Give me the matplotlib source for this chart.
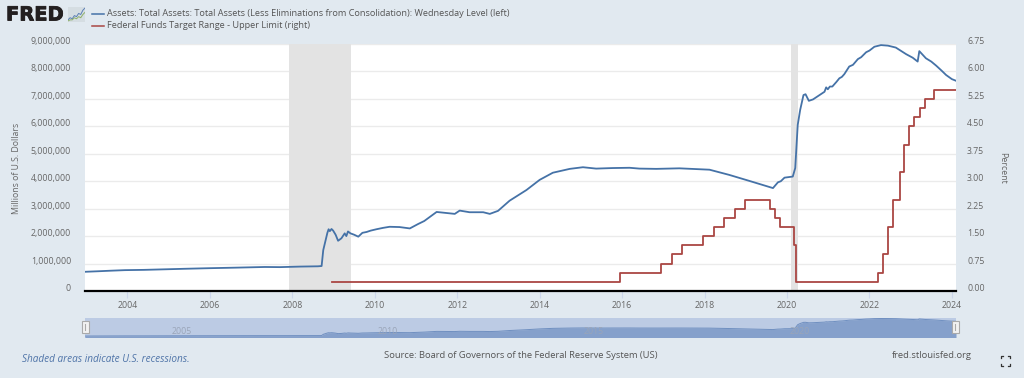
import matplotlib.pyplot as plt
import matplotlib.patheffects as pe
from matplotlib.patches import Rectangle
from matplotlib.lines import Line2D
from matplotlib.transforms import ScaledTranslation

plt.rcParams['font.family'] = ['Open Sans', 'DejaVu Sans']

W, H = 1024, 378
BG = '#e1e9f0'
BLUE = '#4572a7'
RED = '#aa4643'
GREY = '#666666'

asset_years = [2002.97, 2003.3, 2003.6, 2003.94, 2004.4, 2004.9, 2005.4, 2005.95, 2006.6, 2007.33,
               2007.7, 2008.2, 2008.62, 2008.71, 2008.75, 2008.85, 2008.88, 2008.91, 2008.95, 2008.99,
               2009.05, 2009.11, 2009.19, 2009.27, 2009.31, 2009.35, 2009.41, 2009.5, 2009.6, 2009.7,
               2009.8, 2009.9, 2010.04, 2010.2, 2010.36, 2010.6, 2010.85, 2011.05, 2011.2, 2011.5,
               2011.94, 2012.06, 2012.3, 2012.63, 2012.79, 2012.99, 2013.27, 2013.68, 2014.0, 2014.32,
               2014.73, 2015.05, 2015.37, 2015.77, 2016.18, 2016.42, 2016.83, 2017.39, 2018.12, 2018.6,
               2019.09, 2019.66, 2019.78, 2019.85, 2019.94, 2020.14, 2020.2, 2020.26, 2020.32, 2020.4,
               2020.45, 2020.53, 2020.63, 2020.79, 2020.85, 2020.91, 2020.95, 2020.99, 2021.04, 2021.1,
               2021.2, 2021.27, 2021.33, 2021.39, 2021.51, 2021.6, 2021.72, 2021.8, 2021.92, 2022.0,
               2022.12, 2022.28, 2022.45, 2022.64, 2022.89, 2023.05, 2023.17, 2023.21, 2023.37, 2023.5,
               2023.62, 2023.75, 2023.86, 2024.0, 2024.1]
asset_values = [0.70, 0.72, 0.74, 0.76, 0.77, 0.79, 0.81, 0.83, 0.85, 0.875,
                0.87, 0.89, 0.90, 0.91, 1.49, 2.12, 2.25, 2.18, 2.26, 2.2,
                2.05, 1.83, 1.92, 2.1, 2.0, 2.17, 2.1, 2.05, 1.98, 2.12,
                2.15, 2.2, 2.25, 2.3, 2.34, 2.33, 2.28, 2.44, 2.55, 2.88,
                2.81, 2.93, 2.87, 2.87, 2.81, 2.92, 3.29, 3.68, 4.05, 4.31,
                4.45, 4.51, 4.46, 4.48, 4.49, 4.46, 4.45, 4.47, 4.42, 4.23,
                4.01, 3.75, 3.96, 4.0, 4.13, 4.17, 4.48, 6.05, 6.6, 7.14,
                7.17, 6.93, 6.98, 7.14, 7.2, 7.26, 7.42, 7.35, 7.45, 7.45,
                7.62, 7.75, 7.8, 7.9, 8.18, 8.24, 8.45, 8.52, 8.7, 8.76,
                8.9, 8.96, 8.94, 8.87, 8.63, 8.5, 8.36, 8.74, 8.48, 8.36,
                8.21, 8.03, 7.87, 7.72, 7.66]

rate_years = [2008.96, 2015.96, 2016.95, 2017.2, 2017.46, 2017.96, 2018.22, 2018.46, 2018.74, 2018.97,
              2019.58, 2019.72, 2019.83, 2020.17, 2020.21, 2022.2, 2022.34, 2022.46, 2022.57, 2022.73,
              2022.84, 2022.96, 2023.09, 2023.23, 2023.34, 2023.57, 2024.1]
rate_values = [0.25, 0.50, 0.75, 1.00, 1.25, 1.50, 1.75, 2.00, 2.25, 2.50,
               2.25, 2.00, 1.75, 1.25, 0.25, 0.50, 1.00, 1.75, 2.50, 3.25,
               4.00, 4.50, 4.75, 5.00, 5.25, 5.50, 5.50]

recessions = [(2007.92, 2009.42), (2020.1, 2020.27)]

x_ticks = [2004, 2006, 2008, 2010, 2012, 2014, 2016, 2018, 2020, 2022, 2024]
left_ticks = [0, 1, 2, 3, 4, 5, 6, 7, 8, 9]
left_labels = ['0', '1,000,000', '2,000,000', '3,000,000', '4,000,000', '5,000,000',
               '6,000,000', '7,000,000', '8,000,000', '9,000,000']
right_ticks = [0, 0.75, 1.5, 2.25, 3, 3.75, 4.5, 5.25, 6, 6.75]
right_labels = ['0.00', '0.75', '1.50', '2.25', '3.00', '3.75', '4.50', '5.25', '6.00', '6.75']
nav_years = [2005, 2010, 2015, 2020]


def box(x0, y0, x1, y1):
    # pixel box (top-left origin) -> figure rect
    return [x0 / W, 1 - y1 / H, (x1 - x0) / W, (y1 - y0) / H]


def label(x, y, s, **kw):
    return fig.text(x / W, 1 - y / H, s, **kw)


fig = plt.figure(figsize=(W / 100, H / 100), dpi=100, facecolor=BG)

XMIN, XMAX = 2002.97, 2024.1
# nudge y tick labels down a little, they still sit above their gridline
drop = ScaledTranslation(0, -2 / 100, fig.dpi_scale_trans)

ax = fig.add_axes(box(85, 44, 956, 291))
ax.set_xlim(XMIN, XMAX)
ax.set_ylim(0, 9)
for start, end in recessions:
    ax.axvspan(start, end, color='#e3e3e3', lw=0, zorder=1)
ax.set_yticks(left_ticks)
ax.set_yticklabels(left_labels, va='bottom')
ax.set_xticks(x_ticks)
ax.grid(axis='y', color='#ebebeb', lw=1, zorder=0)
ax.set_axisbelow(True)
ax.plot(asset_years, asset_values, color=BLUE, lw=1.3, zorder=4)
ax.tick_params(axis='y', length=0, pad=10, labelsize=6.3, labelcolor=GREY)
ax.tick_params(axis='x', length=5, width=0.8, color='#ccd6eb', pad=2, labelsize=6.3, labelcolor=GREY)
for side in ['top', 'left', 'right']:
    ax.spines[side].set_visible(False)
ax.spines['bottom'].set_linewidth(1.6)
ax.spines['bottom'].set_color('black')
for t in ax.get_yticklabels():
    t.set_transform(t.get_transform() + drop)

ax2 = ax.twinx()
ax2.set_ylim(0, 6.75)
ax2.set_yticks(right_ticks)
ax2.set_yticklabels(right_labels, va='bottom')
ax2.step(rate_years, rate_values, where='post', color=RED, lw=1.3, zorder=5)
ax2.tick_params(axis='y', length=0, pad=8, labelsize=6.3, labelcolor=GREY)
for spine in ax2.spines.values():
    spine.set_visible(False)
for t in ax2.get_yticklabels():
    t.set_transform(t.get_transform() + drop)

label(17, 168, 'Millions of U.S. Dollars', rotation=90, ha='center', va='center', fontsize=6.3, color=GREY)
label(1003, 168, 'Percent', rotation=270, ha='center', va='center', fontsize=6.3, color=GREY)

# navigator strip
nav = fig.add_axes(box(85, 318, 956, 337.5), facecolor='#bccbe4')
nav.set_xlim(XMIN, XMAX)
nav.set_ylim(0, 9.2)
nav.fill_between(asset_years, asset_values, 0, color='#85a0cb', lw=0)
nav.plot(asset_years, asset_values, color='#6f8fc0', lw=0.7)
nav.set_xticks([])
nav.set_yticks([])
for spine in nav.spines.values():
    spine.set_visible(False)
for yr in nav_years:
    nav.text(yr + 0.31, 0.9, str(yr), ha='center', va='bottom', fontsize=6.3, color='#9aa5b8')
for hx in [85, 955]:
    fig.add_artist(Rectangle(((hx - 3) / W, 1 - 333 / H), 7 / W, 12 / H, transform=fig.transFigure,
                             fc='#f2f2f2', ec='#aaaaaa', lw=0.8, zorder=6))
    fig.add_artist(Line2D([hx / W + 0.0003] * 2, [1 - 330 / H, 1 - 324 / H], color='#aaaaaa', lw=0.8, zorder=7))

# legend
for ly, col, txt in [(14, BLUE, 'Assets: Total Assets: Total Assets (Less Eliminations from Consolidation): Wednesday Level (left)'),
                     (26, RED, 'Federal Funds Target Range - Upper Limit (right)')]:
    fig.add_artist(Line2D([92 / W, 104 / W], [1 - ly / H] * 2, color=col, lw=1.1))
    label(107, ly, txt, ha='left', va='center', fontsize=6.57, color='#555555')

# logo
logo_txt = label(6, 15, 'FRED', ha='left', va='center', fontsize=14, fontweight='bold', color='#231f20',
                 family=['DejaVu Sans'])
logo_txt.set_path_effects([pe.withStroke(linewidth=0.6, foreground='#231f20')])
logo = fig.add_axes(box(68, 7, 85, 22), facecolor='#d5dde2')
logo.set_xlim(0, 8)
logo.set_ylim(0, 7)
logo.set_xticks([])
logo.set_yticks([])
for spine in logo.spines.values():
    spine.set_visible(False)
logo.plot([0, 1, 2, 3, 4, 5, 6, 7, 8], [1, 2, 1.5, 3, 2.5, 4, 3.5, 5.5, 6.5], color='#5b7fb5', lw=0.7)
logo.plot([0, 1, 2, 3, 4, 5, 6, 7, 8], [0.5, 1, 1, 2, 1.5, 2.5, 2, 3.5, 4.5], color='#8fb06a', lw=0.7)

# footer
label(22, 360, 'Shaded areas indicate U.S. recessions.', ha='left', va='center', fontsize=7.2, style='italic', color='#4f74a8')
label(384, 356, 'Source: Board of Governors of the Federal Reserve System (US)', ha='left', va='center', fontsize=6.77, color='#555555')
label(892, 356, 'fred.stlouisfed.org', ha='left', va='center', fontsize=6.77, color='#555555')

# fullscreen icon
for cx, cy, dx, dy in [(1000.5, 356, 1, 1), (1010, 356, -1, 1), (1000.5, 366, 1, -1), (1010, 366, -1, -1)]:
    fig.add_artist(Line2D([(cx + 2 * dx) / W, cx / W, cx / W],
                          [1 - cy / H, 1 - cy / H, 1 - (cy + 2 * dy) / H], color='#333333', lw=0.9))

fig.savefig('out.png', dpi=100, facecolor=BG)
